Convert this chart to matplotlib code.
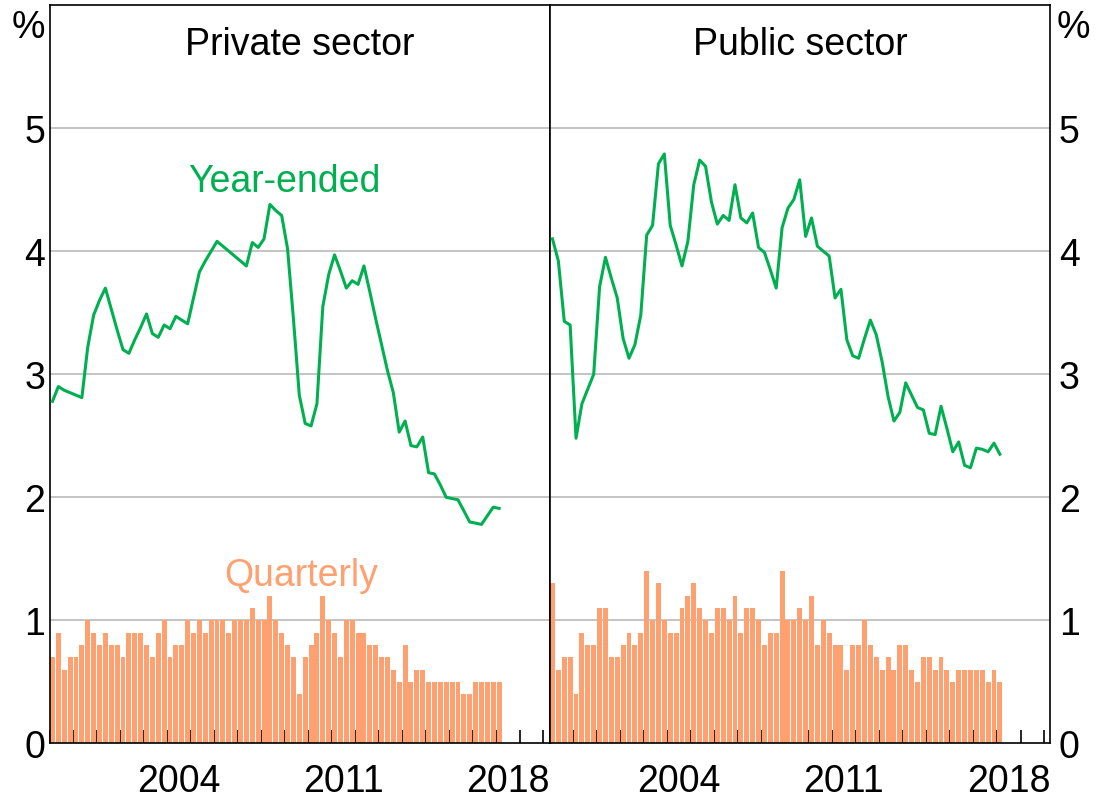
import numpy as np
import pandas as pd
import matplotlib
matplotlib.use("Agg")
import matplotlib.pyplot as plt

plt.rcParams['font.family'] = ['Liberation Sans', 'DejaVu Sans']

# quarterly observations, 1999:Q1 to 2018:Q1
quarters = pd.period_range("1999Q1", "2018Q1", freq="Q")

private_quarterly = [
    0.7, 0.9, 0.6, 0.7, 0.7, 0.8, 1.0, 0.9, 0.8, 0.9, 0.8, 0.8, 0.7, 0.9, 0.9, 0.9,
    0.8, 0.7, 0.9, 1.0, 0.7, 0.8, 0.8, 1.0, 0.9, 1.0, 0.9, 1.0, 1.0, 1.0, 0.9, 1.0,
    1.0, 1.0, 1.1, 1.0, 1.0, 1.2, 1.0, 0.9, 0.8, 0.7, 0.4, 0.7, 0.8, 0.9, 1.2, 1.0,
    0.9, 0.7, 1.0, 1.0, 0.9, 0.9, 0.8, 0.8, 0.7, 0.7, 0.6, 0.5, 0.8, 0.5, 0.6, 0.6,
    0.5, 0.5, 0.5, 0.5, 0.5, 0.5, 0.4, 0.4, 0.5, 0.5, 0.5, 0.5, 0.5,
]
private_year_ended = [
    2.78, 2.90, 2.87, 2.85, 2.83, 2.81, 3.22, 3.48, 3.60, 3.70, 3.53, 3.36, 3.20, 3.17, 3.28, 3.38,
    3.49, 3.33, 3.30, 3.40, 3.37, 3.47, 3.44, 3.41, 3.62, 3.83, 3.92, 4.00, 4.08, 4.04, 4.00, 3.96,
    3.92, 3.88, 4.07, 4.03, 4.10, 4.38, 4.33, 4.29, 4.02, 3.45, 2.83, 2.60, 2.58, 2.76, 3.55, 3.81,
    3.97, 3.84, 3.70, 3.76, 3.73, 3.88, 3.67, 3.45, 3.24, 3.03, 2.85, 2.53, 2.62, 2.42, 2.41, 2.49,
    2.20, 2.19, 2.10, 2.00, 1.99, 1.98, 1.89, 1.80, 1.79, 1.78, 1.85, 1.92, 1.91,
]
public_quarterly = [
    1.3, 0.6, 0.7, 0.7, 0.4, 0.9, 0.8, 0.8, 1.1, 1.1, 0.7, 0.7, 0.8, 0.9, 0.8, 0.9,
    1.4, 1.0, 1.3, 1.0, 0.9, 0.9, 1.1, 1.2, 1.3, 1.1, 1.0, 0.9, 1.1, 1.1, 1.0, 1.2,
    0.9, 1.1, 1.1, 1.0, 0.8, 0.9, 0.9, 1.4, 1.0, 1.0, 1.1, 1.0, 1.2, 0.8, 1.0, 0.9,
    0.8, 0.8, 0.6, 0.8, 0.8, 1.0, 0.8, 0.7, 0.6, 0.7, 0.6, 0.8, 0.8, 0.6, 0.5, 0.7,
    0.7, 0.6, 0.7, 0.6, 0.5, 0.6, 0.6, 0.6, 0.6, 0.6, 0.5, 0.6, 0.5,
]
public_year_ended = [
    4.10, 3.92, 3.43, 3.40, 2.48, 2.76, 2.88, 3.00, 3.71, 3.95, 3.78, 3.62, 3.29, 3.13, 3.24, 3.48,
    4.13, 4.21, 4.71, 4.79, 4.21, 4.05, 3.88, 4.08, 4.54, 4.74, 4.69, 4.40, 4.22, 4.29, 4.25, 4.54,
    4.27, 4.23, 4.31, 4.03, 3.99, 3.85, 3.70, 4.19, 4.35, 4.42, 4.58, 4.12, 4.27, 4.04, 4.00, 3.96,
    3.62, 3.69, 3.28, 3.15, 3.13, 3.29, 3.44, 3.32, 3.10, 2.82, 2.62, 2.69, 2.93, 2.83, 2.73, 2.71,
    2.52, 2.51, 2.74, 2.56, 2.37, 2.45, 2.26, 2.24, 2.40, 2.39, 2.37, 2.44, 2.35,
]

panel_titles = ["Private sector", "Public sector"]
year_labels = ["2004", "2011", "2018"]
y_ticks = [0, 1, 2, 3, 4, 5]

GREEN = "#00b050"
SALMON = "#ffa070"

# decimal year at the middle of each quarter
x = quarters.year + (quarters.quarter - 1) * 0.25 + 0.125

fig = plt.figure(figsize=(10.96, 8.03), dpi=100)
ax1 = fig.add_axes([0.0452, 0.0729, 0.4562, 0.9196])
ax2 = fig.add_axes([0.5014, 0.0729, 0.4570, 0.9196])

panels = [
    (ax1, private_quarterly, private_year_ended, panel_titles[0]),
    (ax2, public_quarterly, public_year_ended, panel_titles[1]),
]

for ax, qtr, ye, title in panels:
    ax.bar(x, qtr, width=0.21, color=SALMON, zorder=2)
    ax.plot(x, ye, color=GREEN, lw=2.2, zorder=3)

    ax.set_xlim(1999, 2020.27)
    ax.set_ylim(0, 6)
    for v in range(1, 6):
        ax.axhline(v, color="#bfbfbf", lw=1.3, zorder=1)

    # year ticks inside, labels centred on the year
    ax.set_xticks(np.arange(1999, 2021))
    ax.set_xticklabels([])
    ax.tick_params(axis="x", which="major", direction="in", length=9.5, width=1.2, color="black")
    ax.set_xticks([2004.5, 2011.5, 2018.5], minor=True)
    ax.set_xticklabels(year_labels, minor=True)
    ax.tick_params(axis="x", which="minor", length=0, pad=14, labelsize=27)

    ax.set_yticks(y_ticks)
    ax.tick_params(axis="y", length=0, labelsize=27)

    for s in ax.spines.values():
        s.set_linewidth(1.2)
        s.set_color("black")

    ax.text(0.5, 5.6, title, transform=ax.get_yaxis_transform(), ha="center",
            va="baseline", fontsize=27)

ax1.tick_params(axis="y", pad=3)
ax2.yaxis.tick_right()
ax2.tick_params(axis="y", pad=6)

ax1.text(-0.008, 0.994, "%", transform=ax1.transAxes, ha="right", va="top", fontsize=27)
ax2.text(1.012, 0.994, "%", transform=ax2.transAxes, ha="left", va="top", fontsize=27)

ax1.text(2009.0, 4.49, "Year-ended", color=GREEN, ha="center", va="baseline", fontsize=27)
ax1.text(2009.7, 1.29, "Quarterly", color=SALMON, ha="center", va="baseline", fontsize=27)

fig.savefig("out.png", dpi=100)
